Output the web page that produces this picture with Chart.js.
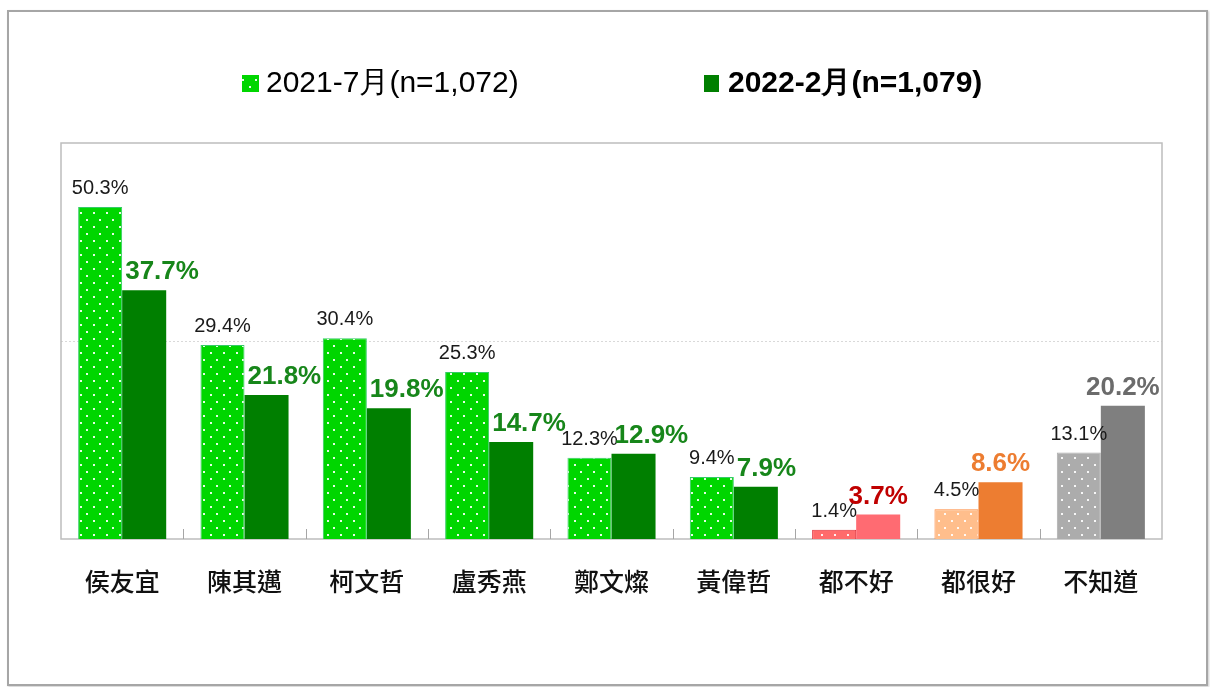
<!DOCTYPE html>
<html>
<head>
<meta charset="utf-8">
<script src="https://cdn.jsdelivr.net/npm/chart.js@4.4.1/dist/chart.umd.min.js"></script>
<style>
  html, body { margin: 0; padding: 0; background: #fff; }
  #wrap { position: relative; width: 1210px; height: 687px; }
  #frame { position: absolute; left: 7px; top: 10px; width: 1197px; height: 672px; border: 2px solid #a6a6a6; box-shadow: 1px 1px 2px #ccc; }
  #cv { position: absolute; left: 0; top: 0; }
</style>
</head>
<body>
<div id="wrap">
  <div id="frame"></div>
  <canvas id="cv" width="1210" height="687"></canvas>
</div>
<script>
const categories = ['侯友宜', '陳其邁', '柯文哲', '盧秀燕', '鄭文燦', '黃偉哲', '都不好', '都很好', '不知道'];
const series2021 = [50.3, 29.4, 30.4, 25.3, 12.3, 9.4, 1.4, 4.5, 13.1];
const series2022 = [37.7, 21.8, 19.8, 14.7, 12.9, 7.9, 3.7, 8.6, 20.2];
const seriesNames = ['2021-7月(n=1,072)', '2022-2月(n=1,079)'];
const yTicks = [0, 30, 60];

const fill2021 = ['#00d600','#00d600','#00d600','#00d600','#00d600','#00d600','#ff6b6b','#ffbe8c','#acacac'];
const border2021 = ['#33cc66','#33cc66','#33cc66','#33cc66','#33cc66','#33cc66','#e0303a','#ff8a3d','#acacac'];
const fill2022 = ['#007f00','#007f00','#007f00','#007f00','#007f00','#007f00','#ff6b72','#ed7d31','#7f7f7f'];
const label2022Color = ['#17861a','#17861a','#17861a','#17861a','#17861a','#17861a','#c00000','#ed7d31','#6b6b6b'];

function makePattern(color) {
  const c = document.createElement('canvas');
  c.width = 13; c.height = 14;
  const g = c.getContext('2d');
  g.fillStyle = color; g.fillRect(0, 0, 13, 14);
  g.fillStyle = 'rgba(255,255,255,0.9)';
  g.fillRect(2, 2, 2, 2);
  g.fillRect(8, 9, 2, 2);
  return g.createPattern(c, 'repeat');
}
const patterns2021 = fill2021.map(makePattern);

const decor = {
  id: 'decor',
  beforeDatasetsDraw(chart) {
    const { ctx, chartArea: a, scales: { x, y } } = chart;
    ctx.save();
    ctx.strokeStyle = '#d9d9d9';
    ctx.lineWidth = 1;
    ctx.setLineDash([2, 2]);
    yTicks.slice(1, -1).forEach(v => {
      const py = Math.round(y.getPixelForValue(v)) + 0.5;
      ctx.beginPath(); ctx.moveTo(a.left, py); ctx.lineTo(a.right, py); ctx.stroke();
    });
    ctx.setLineDash([]);
    ctx.strokeStyle = '#bdbdbd';
    ctx.lineWidth = 1.5;
    ctx.strokeRect(a.left, a.top, a.right - a.left, a.bottom - a.top);
    ctx.strokeStyle = '#a6a6a6';
    ctx.lineWidth = 1;
    for (let i = 0; i < categories.length - 1; i++) {
      const px = Math.round((x.getPixelForValue(i) + x.getPixelForValue(i + 1)) / 2) + 0.5;
      ctx.beginPath(); ctx.moveTo(px, a.bottom); ctx.lineTo(px, a.bottom - 10); ctx.stroke();
    }
    ctx.restore();
  },
  afterDatasetsDraw(chart) {
    const { ctx } = chart;
    ctx.save();
    const m0 = chart.getDatasetMeta(0), m1 = chart.getDatasetMeta(1);
    ctx.textBaseline = 'alphabetic';
    m0.data.forEach((bar, i) => {
      ctx.font = '20px "Liberation Sans", Arial, sans-serif';
      ctx.fillStyle = '#1a1a1a';
      ctx.textAlign = 'center';
      ctx.fillText(series2021[i].toFixed(1) + '%', bar.x, bar.y - 13);
    });
    m1.data.forEach((bar, i) => {
      ctx.font = 'bold 26px "Liberation Sans", Arial, sans-serif';
      ctx.fillStyle = label2022Color[i];
      if (i < 6) {
        ctx.textAlign = 'left';
        ctx.fillText(series2022[i].toFixed(1) + '%', bar.x - bar.width / 2 + 3, bar.y - 11);
      } else {
        ctx.textAlign = 'center';
        ctx.fillText(series2022[i].toFixed(1) + '%', bar.x, bar.y - 11);
      }
    });
    // legend
    ctx.textAlign = 'left';
    ctx.textBaseline = 'middle';
    ctx.fillStyle = patterns2021[0];
    ctx.fillRect(242, 75, 17, 17);
    ctx.fillStyle = '#000';
    ctx.font = '30px "Liberation Sans", Arial, sans-serif';
    ctx.fillText(seriesNames[0], 266, 84);
    ctx.fillStyle = fill2022[0];
    ctx.fillRect(704, 75, 15, 17);
    ctx.fillStyle = '#000';
    ctx.font = 'bold 30px "Liberation Sans", Arial, sans-serif';
    ctx.fillText(seriesNames[1], 728, 84);
    ctx.restore();
  }
};

new Chart(document.getElementById('cv'), {
  type: 'bar',
  data: {
    labels: categories,
    datasets: [
      { label: seriesNames[0], data: series2021, backgroundColor: patterns2021, borderColor: border2021, borderWidth: 1, barPercentage: 1, categoryPercentage: 0.72 },
      { label: seriesNames[1], data: series2022, backgroundColor: fill2022, borderWidth: 0, barPercentage: 1, categoryPercentage: 0.72 }
    ]
  },
  options: {
    responsive: false,
    animation: false,
    devicePixelRatio: 1,
    layout: { padding: { left: 61, right: 48, top: 143, bottom: 72 } },
    plugins: { legend: { display: false }, tooltip: { enabled: false } },
    scales: {
      x: {
        grid: { display: false },
        border: { display: false },
        ticks: { color: '#111', padding: 19, font: { size: 25, weight: '500', family: '"Noto Sans CJK TC", sans-serif' } }
      },
      y: { display: false, min: yTicks[0], max: yTicks[yTicks.length - 1] }
    }
  },
  plugins: [decor]
});
</script>
</body>
</html>
